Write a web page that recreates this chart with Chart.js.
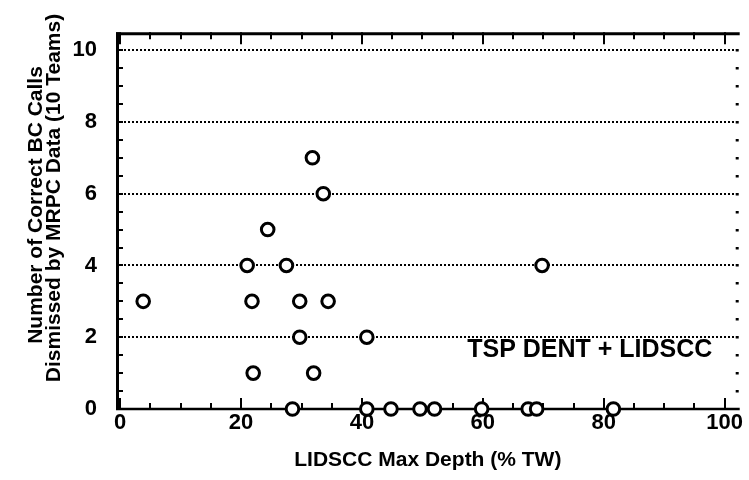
<!DOCTYPE html>
<html><head><meta charset="utf-8">
<script src="https://cdn.jsdelivr.net/npm/chart.js@4/dist/chart.umd.min.js"></script>
<style>html,body{margin:0;padding:0;background:#fff}#wrap{width:749px;height:480px}</style>
</head><body><div id="wrap"><canvas id="c" width="749" height="480"></canvas></div>
<script>
const depth = [3.8, 21, 21.8, 22, 24.4, 27.5, 28.5, 29.7, 29.7, 31.8, 32, 33.6, 34.4, 40.8, 40.8, 44.8, 49.6, 52, 59.8, 67.5, 68.9, 69.8, 81.6];
const calls = [3, 4, 3, 1, 5, 4, 0, 3, 2, 7, 1, 6, 3, 2, 0, 0, 0, 0, 0, 0, 0, 4, 0];
const xTickLabels = [0, 20, 40, 60, 80, 100];
const yTickLabels = [0, 2, 4, 6, 8, 10];
const xTitle = 'LIDSCC Max Depth (% TW)';
const yTitle = ['Number of Correct BC Calls', 'Dismissed by MRPC Data (10 Teams)'];
const note = 'TSP DENT + LIDSCC';
const notePos = {x: 77.7, y: 1.63};

const FONT = "'Liberation Sans', Arial, Helvetica, sans-serif";
Chart.defaults.font.family = FONT;
Chart.defaults.font.weight = 'bold';
Chart.defaults.color = '#000';

const frame = {
  id: 'frame',
  beforeDatasetsDraw(chart) {
    const {ctx, chartArea: a, scales: {x, y}} = chart;
    ctx.save();
    ctx.strokeStyle = '#000';
    ctx.fillStyle = '#000';
    ctx.lineCap = 'butt';
    const y0 = y.getPixelForValue(0);
    ctx.lineWidth = 3;
    ctx.beginPath(); ctx.moveTo(a.left, a.top + 1.5); ctx.lineTo(a.right, a.top + 1.5); ctx.stroke();
    ctx.beginPath(); ctx.moveTo(a.left + 1.5, a.top); ctx.lineTo(a.left + 1.5, y0 + 1); ctx.stroke();
    ctx.lineWidth = 2.5;
    ctx.beginPath(); ctx.moveTo(a.left, y0); ctx.lineTo(a.right, y0); ctx.stroke();
    ctx.lineWidth = 2;
    for (let v = 0; v <= 100; v += 5) {
      const px = Math.round(x.getPixelForValue(v));
      const len = v % 20 === 0 ? 11 : 6;
      ctx.beginPath(); ctx.moveTo(px, y0); ctx.lineTo(px, y0 - len); ctx.stroke();
      ctx.beginPath(); ctx.moveTo(px, a.top); ctx.lineTo(px, a.top + len + 1); ctx.stroke();
    }
    for (let v = 0.5; v <= 10; v += 0.5) {
      const py = Math.round(y.getPixelForValue(v));
      ctx.beginPath(); ctx.moveTo(a.left, py); ctx.lineTo(a.left + 7, py); ctx.stroke();
      ctx.fillRect(a.right - 4, py - 1, 3, 2.5);
    }
    // y axis title (two rotated lines)
    ctx.font = "bold 21px " + FONT;
    ctx.textAlign = 'center';
    ctx.textBaseline = 'middle';
    const lines = [{x: 36, y: 205}, {x: 54, y: 198}];
    yTitle.forEach((t, i) => {
      ctx.save();
      ctx.translate(lines[i].x, lines[i].y);
      ctx.rotate(-Math.PI / 2);
      ctx.fillText(t, 0, 0);
      ctx.restore();
    });
    ctx.restore();
  },
  afterDatasetsDraw(chart) {
    const {ctx, scales: {x, y}} = chart;
    ctx.save();
    ctx.fillStyle = '#000';
    ctx.font = "bold 25px " + FONT;
    ctx.textAlign = 'center';
    ctx.textBaseline = 'middle';
    ctx.fillText(note, x.getPixelForValue(notePos.x), y.getPixelForValue(notePos.y));
    ctx.restore();
  }
};

new Chart(document.getElementById('c'), {
  type: 'scatter',
  data: {
    datasets: [{
      data: depth.map((d, i) => ({x: d, y: calls[i]})),
      pointRadius: 6.3,
      pointHoverRadius: 6.3,
      pointBorderWidth: 3,
      pointBackgroundColor: '#fff',
      pointBorderColor: '#000',
      clip: false
    }]
  },
  options: {
    responsive: false,
    animation: false,
    events: [],
    layout: {padding: {top: 9, right: 4, left: 0, bottom: 0}},
    plugins: {legend: {display: false}, tooltip: {enabled: false}},
    scales: {
      x: {
        type: 'linear', min: -0.7, max: 102.5,
        afterBuildTicks: s => { s.ticks = xTickLabels.map(v => ({value: v})); },
        afterFit: s => { s.height = 71; },
        grid: {display: false, drawTicks: false},
        border: {display: false},
        ticks: {padding: 1, font: {size: 22, weight: 'bold'}, color: '#000', maxRotation: 0},
        title: {display: true, text: xTitle, font: {size: 21, weight: 'bold'}, color: '#000', padding: {top: 0, bottom: 7}}
      },
      y: {
        type: 'linear', min: 0, max: 10.5,
        afterBuildTicks: s => { s.ticks = yTickLabels.map(v => ({value: v})); },
        afterFit: s => { s.width = 116; },
        grid: {
          drawTicks: false,
          color: c => (c.tick && c.tick.value === 0) ? 'rgba(0,0,0,0)' : '#000',
          lineWidth: 2
        },
        border: {display: false, dash: [2, 2]},
        ticks: {padding: 19, font: {size: 22, weight: 'bold'}, color: '#000'},
        title: {display: false}
      }
    }
  },
  plugins: [frame]
});
</script>
</body></html>
